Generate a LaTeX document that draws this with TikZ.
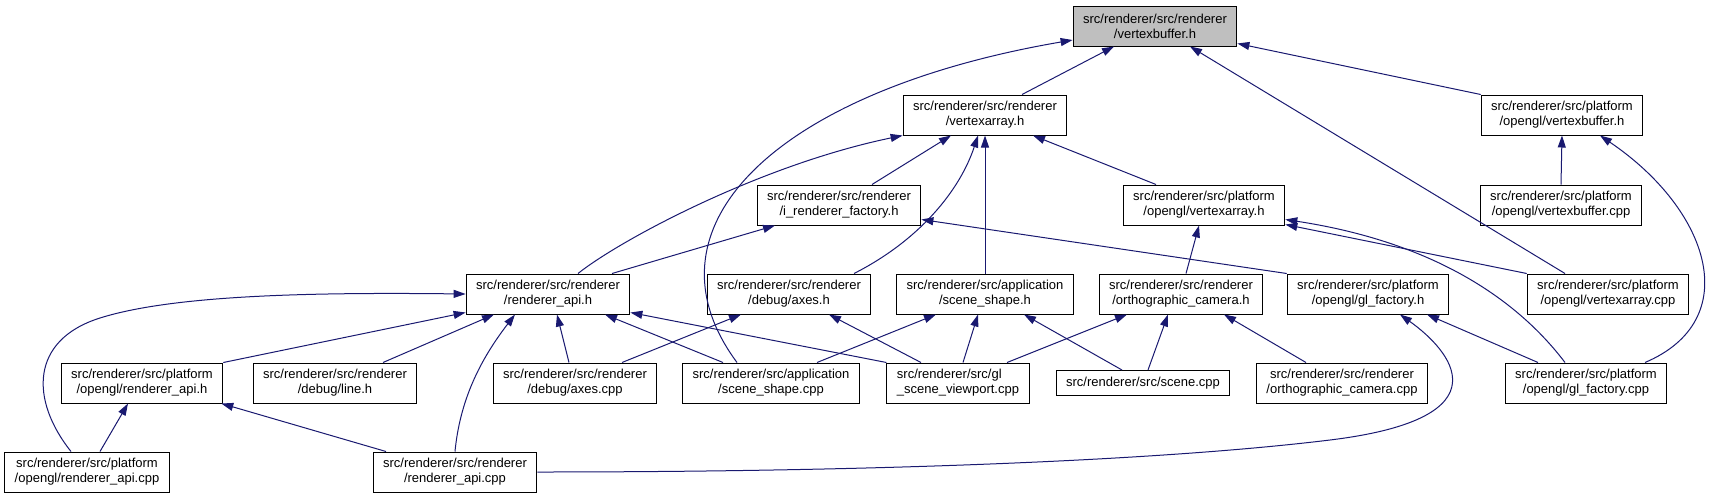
\documentclass[tikz,border=0pt]{standalone}
\usepackage{fontspec}
\setmainfont{Liberation Sans}
\usetikzlibrary{arrows.meta}
\definecolor{edgeblue}{RGB}{25,25,112}
\definecolor{focusgray}{RGB}{191,191,191}

\begin{document}
\begin{tikzpicture}[x=1pt,y=-1pt,
  file/.style={draw=black,line width=1pt,fill=white,align=center,
    minimum height=40pt,inner xsep=10pt,inner ysep=2pt,
    font=\fontsize{13}{15}\selectfont},
  inc/.style={draw=edgeblue,line width=1pt,
    -{Triangle[length=12pt,width=8pt]}}]

  \useasboundingbox (0,0) rectangle (1714,499);

  % ================= 第一、二层 =================
  \node[file,fill=focusgray] (vbh) at (1155,26) {src/renderer/src/renderer\\/vertexbuffer.h};
  \node[file] (vah)  at (985,115)  {src/renderer/src/renderer\\/vertexarray.h};
  \node[file] (pvbh) at (1562,115) {src/renderer/src/platform\\/opengl/vertexbuffer.h};

  % ================= 第三层 =================
  \node[file] (irf)    at (839,205)  {src/renderer/src/renderer\\/i\_renderer\_factory.h};
  \node[file] (pvah)   at (1204,205) {src/renderer/src/platform\\/opengl/vertexarray.h};
  \node[file] (pvbcpp) at (1561,205) {src/renderer/src/platform\\/opengl/vertexbuffer.cpp};

  % ================= 第四层 =================
  \node[file] (rah)    at (548,294)  {src/renderer/src/renderer\\/renderer\_api.h};
  \node[file] (axh)    at (789,294)  {src/renderer/src/renderer\\/debug/axes.h};
  \node[file] (ssh)    at (985,294)  {src/renderer/src/application\\/scene\_shape.h};
  \node[file] (och)    at (1181,294) {src/renderer/src/renderer\\/orthographic\_camera.h};
  \node[file] (glfh)   at (1368,294) {src/renderer/src/platform\\/opengl/gl\_factory.h};
  \node[file] (pvacpp) at (1608,294) {src/renderer/src/platform\\/opengl/vertexarray.cpp};

  % ================= 第五层 =================
  \node[file] (prah)   at (142,383)  {src/renderer/src/platform\\/opengl/renderer\_api.h};
  \node[file] (lineh)  at (335,383)  {src/renderer/src/renderer\\/debug/line.h};
  \node[file] (axcpp)  at (575,383)  {src/renderer/src/renderer\\/debug/axes.cpp};
  \node[file] (sscpp)  at (771,383)  {src/renderer/src/application\\/scene\_shape.cpp};
  \node[file,align=left] (glsv) at (958,383) {src/renderer/src/gl\\\_scene\_viewport.cpp};
  \node[file,minimum height=25pt] (scpp) at (1143,383) {src/renderer/src/scene.cpp};
  \node[file] (occpp)  at (1342,383) {src/renderer/src/renderer\\/orthographic\_camera.cpp};
  \node[file] (glfcpp) at (1586,383) {src/renderer/src/platform\\/opengl/gl\_factory.cpp};

  % ================= 第六层 =================
  \node[file] (pracpp) at (87,472)  {src/renderer/src/platform\\/opengl/renderer\_api.cpp};
  \node[file] (racpp)  at (455,472) {src/renderer/src/renderer\\/renderer\_api.cpp};

  % ================= 指向 vertexbuffer.h =================
  \draw[inc] ([xshift=37pt]vah.north) -- ([xshift=-41pt]vbh.south);
  \draw[inc] ([xshift=-34pt]sscpp.north) .. controls (635,225) and (780,90) .. ([yshift=-14pt]vbh.west);
  \draw[inc] (pvbh.north west) -- ([yshift=3pt]vbh.south east);
  \draw[inc] ([xshift=-43pt]pvacpp.north) -- ([xshift=35pt]vbh.south);

  % ================= 指向 vertexarray.h =================
  \draw[inc] ([xshift=33pt]irf.north) -- ([xshift=-34pt]vah.south);
  \draw[inc] ([xshift=30pt]rah.north) .. controls (620,240) and (760,165) .. (vah.south west);
  \draw[inc] ([xshift=65pt]axh.north) .. controls (920,240) and (960,190) .. ([xshift=-7pt]vah.south);
  \draw[inc] (ssh.north) -- (vah.south);
  \draw[inc] ([xshift=-48pt]pvah.north) -- ([xshift=48pt]vah.south);

  % ================= 指向 platform/opengl/vertexbuffer.h =================
  \draw[inc] (pvbcpp.north) -- (pvbh.south);
  \draw[inc] ([xshift=59pt]glfcpp.north) .. controls (1745,320) and (1710,210) .. ([xshift=38pt]pvbh.south);

  % ================= 指向 i_renderer_factory.h / platform vertexarray.h =================
  \draw[inc] ([xshift=64pt]rah.north) -- ([xshift=-64pt]irf.south);
  \draw[inc] (glfh.north west) -- ([yshift=6pt]irf.south east);
  \draw[inc] ([xshift=5pt]och.north) -- ([xshift=-5pt]pvah.south);
  \draw[inc] (pvacpp.north west) -- ([yshift=1pt]pvah.south east);
  \draw[inc] ([xshift=-21pt]glfcpp.north) .. controls (1510,290) and (1420,240) .. ([yshift=6pt]pvah.south east);

  % ================= 指向 renderer_api.h =================
  \draw[inc] ([xshift=-16pt]pracpp.north) .. controls (30,400) and (30,340) .. (100,318)
    .. controls (170,296) and (300,292) .. (rah.west);
  \draw[inc] (prah.north east) -- ([yshift=2pt]rah.south west);
  \draw[inc] ([xshift=48pt]lineh.north) -- ([xshift=-54pt]rah.south);
  \draw[inc] (racpp.north) .. controls (460,400) and (480,360) .. ([xshift=-33pt]rah.south);
  \draw[inc] ([xshift=-6pt]axcpp.north) -- ([xshift=9pt]rah.south);
  \draw[inc] ([xshift=-48pt]sscpp.north) -- ([xshift=57pt]rah.south);
  \draw[inc] (glsv.north west) -- ([yshift=2pt]rah.south east);

  % ================= 第四层其余 =================
  \draw[inc] ([xshift=47pt]axcpp.north) -- ([xshift=-48pt]axh.south);
  \draw[inc] ([xshift=-37pt]glsv.north) -- ([xshift=40pt]axh.south);
  \draw[inc] ([xshift=46pt]sscpp.north) -- ([xshift=-49pt]ssh.south);
  \draw[inc] ([xshift=5pt]glsv.north) -- ([xshift=-7pt]ssh.south);
  \draw[inc] ([xshift=-21pt]scpp.north) -- ([xshift=39pt]ssh.south);
  \draw[inc] ([xshift=49pt]glsv.north) -- ([xshift=-54pt]och.south);
  \draw[inc] ([xshift=5pt]scpp.north) -- ([xshift=-13pt]och.south);
  \draw[inc] ([xshift=-36pt]occpp.north) -- ([xshift=43pt]och.south);
  \draw[inc] ([xshift=-48pt]glfcpp.north) -- ([xshift=59pt]glfh.south);
  \draw[inc] (racpp.east) .. controls (850,472) and (1150,462) .. (1330,440)
    .. controls (1510,418) and (1450,350) .. ([xshift=32pt]glfh.south);

  % ================= 指向 platform/opengl/renderer_api.h =================
  \draw[inc] ([xshift=-69pt]racpp.north) -- ([xshift=-2pt]prah.south east);
  \draw[inc] ([xshift=13pt]pracpp.north) -- ([xshift=-14pt]prah.south);

\end{tikzpicture}
\end{document}
